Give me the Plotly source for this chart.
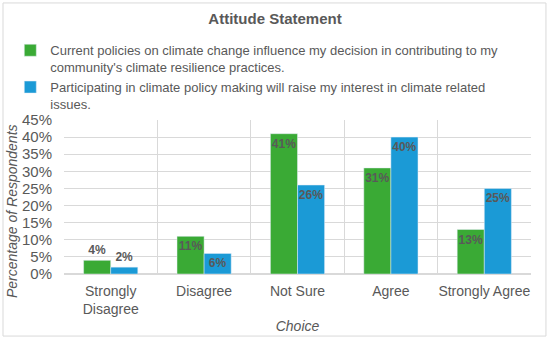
import plotly.graph_objects as go

categories = ["Strongly<br>Disagree", "Disagree", "Not Sure", "Agree", "Strongly Agree"]
series1_name = "Current policies on climate change influence my decision in contributing to my<br>community's climate resilience practices."
series2_name = "Participating in climate policy making will raise my interest in climate related<br>issues."
series1 = [4, 11, 41, 31, 13]
series2 = [2, 6, 26, 40, 25]
yticks = [0, 5, 10, 15, 20, 25, 30, 35, 40, 45]

GREEN = "#3AAA35"
BLUE = "#1B9AD6"
GREY = "#595959"
FONT = "Liberation Sans, Arial, sans-serif"

def positions(vals):
    return ["outside" if v < 5 else "inside" for v in vals]

fig = go.Figure()
for vals, name, color in [(series1, series1_name, GREEN), (series2, series2_name, BLUE)]:
    fig.add_trace(go.Bar(
        x=categories, y=vals, name=name, marker_color=color,
        text=[f"{v}%" for v in vals], textposition=positions(vals),
        insidetextanchor="end", constraintext="none", cliponaxis=False, textangle=0,
        textfont=dict(color=GREY, size=12, family=FONT, weight="bold"),
    ))
# invisible helper trace for category-boundary gridlines
fig.add_trace(go.Scatter(x=[-0.5, 4.5], y=[0, 0], xaxis="x2", mode="lines",
                         line=dict(width=0), showlegend=False, hoverinfo="skip"))

fig.update_layout(
    width=550, height=340,
    margin=dict(l=64, r=19, t=120, b=66, autoexpand=False),
    paper_bgcolor="white", plot_bgcolor="white",
    font=dict(family=FONT, color=GREY),
    barmode="group", bargap=0.42, bargroupgap=0,
    title=dict(text="<b>Attitude Statement</b>", x=0.5, xanchor="center",
               y=0.945, yanchor="middle", font=dict(size=15, color=GREY)),
    legend=dict(x=-0.115, y=1.55, xanchor="left", yanchor="top", valign="top",
                font=dict(size=13, color=GREY), bgcolor="rgba(0,0,0,0)",
                itemwidth=30, tracegroupgap=0, traceorder="normal"),
    xaxis=dict(showgrid=False, tickfont=dict(size=14, color=GREY), automargin=False,
               ticks="outside", ticklen=4, tickcolor="rgba(0,0,0,0)", showline=False,
               title=dict(text="<i>Choice</i>", font=dict(size=14, color=GREY), standoff=5)),
    xaxis2=dict(overlaying="x", range=[-0.5, 4.5], tickvals=[-0.5, 0.5, 1.5, 2.5, 3.5, 4.5],
                showticklabels=False, showgrid=True, gridcolor="#D9D9D9", gridwidth=1,
                zeroline=False, side="bottom", automargin=False),
    yaxis=dict(range=[0, 45], tickvals=yticks, ticktext=[f"{v}%" for v in yticks],
               showgrid=True, gridcolor="#D9D9D9", gridwidth=1, zeroline=True, automargin=False,
               zerolinecolor="#D9D9D9", tickfont=dict(size=15, color=GREY),
               ticks="outside", ticklen=8, tickcolor="rgba(0,0,0,0)"),
    annotations=[dict(text="<i>Percentage of Respondents</i>", xref="paper", yref="paper",
                      x=-0.111, y=0.41, textangle=-90, showarrow=False,
                      xanchor="center", yanchor="middle", font=dict(size=14, color=GREY))],
    shapes=[dict(type="rect", xref="paper", yref="paper", x0=-0.1306, x1=1.032, y0=-0.403, y1=1.76,
                 line=dict(color="#D9D9D9", width=1), fillcolor="rgba(0,0,0,0)", layer="below")],
)

fig.write_html("out.html", post_script="document.body.style.margin='0';",
               config={"displayModeBar": False})
